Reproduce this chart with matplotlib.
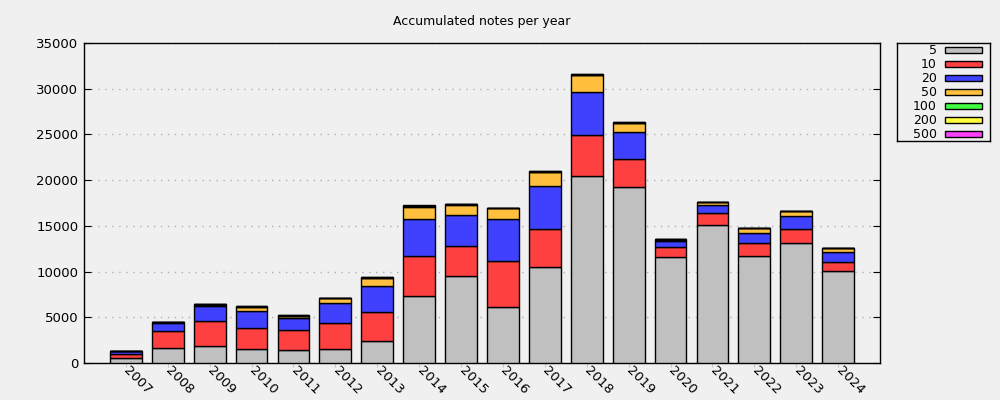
import numpy as np
import matplotlib.pyplot as plt
from matplotlib.patches import Rectangle

years = [str(y) for y in range(2007, 2025)]
denoms = ["5", "10", "20", "50", "100", "200", "500"]

n5 = [510, 1600, 1820, 1495, 1385, 1495, 2370, 7290, 9480, 6090, 10460, 20420, 19210, 11560, 15060, 11670, 13090, 10030]
n10 = [475, 1860, 2735, 2300, 2190, 2840, 3170, 4375, 3280, 5030, 4160, 4480, 3065, 1095, 1310, 1420, 1530, 980]
n20 = [290, 875, 1640, 1860, 1310, 2190, 2845, 4045, 3390, 4595, 4700, 4700, 2955, 655, 875, 1095, 1420, 1095]
n50 = [30, 110, 180, 470, 220, 545, 875, 1310, 1095, 1200, 1530, 1860, 1020, 185, 330, 545, 545, 440]
n100 = [15, 40, 60, 40, 80, 40, 80, 120, 100, 50, 80, 80, 40, 60, 40, 40, 30, 40]
n200 = [5, 20, 30, 20, 40, 20, 40, 60, 50, 20, 40, 40, 20, 30, 20, 20, 20, 20]
n500 = [5, 10, 20, 15, 25, 15, 20, 35, 30, 15, 25, 25, 10, 20, 15, 10, 10, 10]

colors = ["#c0c0c0", "#ff4040", "#4040ff", "#ffc040", "#40ff40", "#ffff40", "#ff40ff"]

fig = plt.figure(figsize=(10, 4), dpi=100, facecolor="#f0f0f0")
ax = fig.add_axes([0.084, 0.0925, 0.796, 0.8])
ax.set_facecolor("#f0f0f0")

x = np.arange(len(years))
bottom = np.zeros(len(years))
for vals, c in zip([n5, n10, n20, n50, n100, n200, n500], colors):
    ax.bar(x, vals, width=0.76, bottom=bottom, color=c, edgecolor="black", linewidth=1, zorder=3)
    bottom += np.array(vals)

ax.set_xlim(-1, 18)
ax.set_ylim(0, 35000)
ax.set_yticks(range(0, 35001, 5000))
ax.yaxis.grid(True, linestyle=(0, (1, 4)), color="#b0b0b0", linewidth=1, zorder=0)
ax.tick_params(axis="y", direction="in", right=True, length=5, labelsize=9.5, pad=4)
ax.tick_params(axis="x", direction="out", length=3, color="#c8c8c8", labelsize=9.5, pad=1)
ax.set_xticks(x)
ax.set_xticklabels(years, rotation=-45, ha="left", va="center", rotation_mode="anchor")
for s in ax.spines.values():
    s.set_linewidth(1)

fig.text(0.482, 0.945, "Accumulated notes per year", ha="center", va="center", fontsize=9)

# legend box, drawn by hand (gnuplot style: label right-aligned, swatch on the right)
lax = fig.add_axes([0.897, 0.6475, 0.093, 0.245])
lax.set_facecolor("#f0f0f0")
lax.set_xlim(0, 93)
lax.set_ylim(98, 0)
lax.set_xticks([])
lax.set_yticks([])
for s in lax.spines.values():
    s.set_linewidth(1)
for i, (lab, c) in enumerate(zip(denoms, colors)):
    yy = 7 + 14 * i
    lax.text(40, yy, lab, ha="right", va="center", fontsize=9)
    lax.add_patch(Rectangle((48, yy - 3), 37, 6, facecolor=c, edgecolor="black", linewidth=1))

fig.savefig("out.png", dpi=100, facecolor="#f0f0f0")
